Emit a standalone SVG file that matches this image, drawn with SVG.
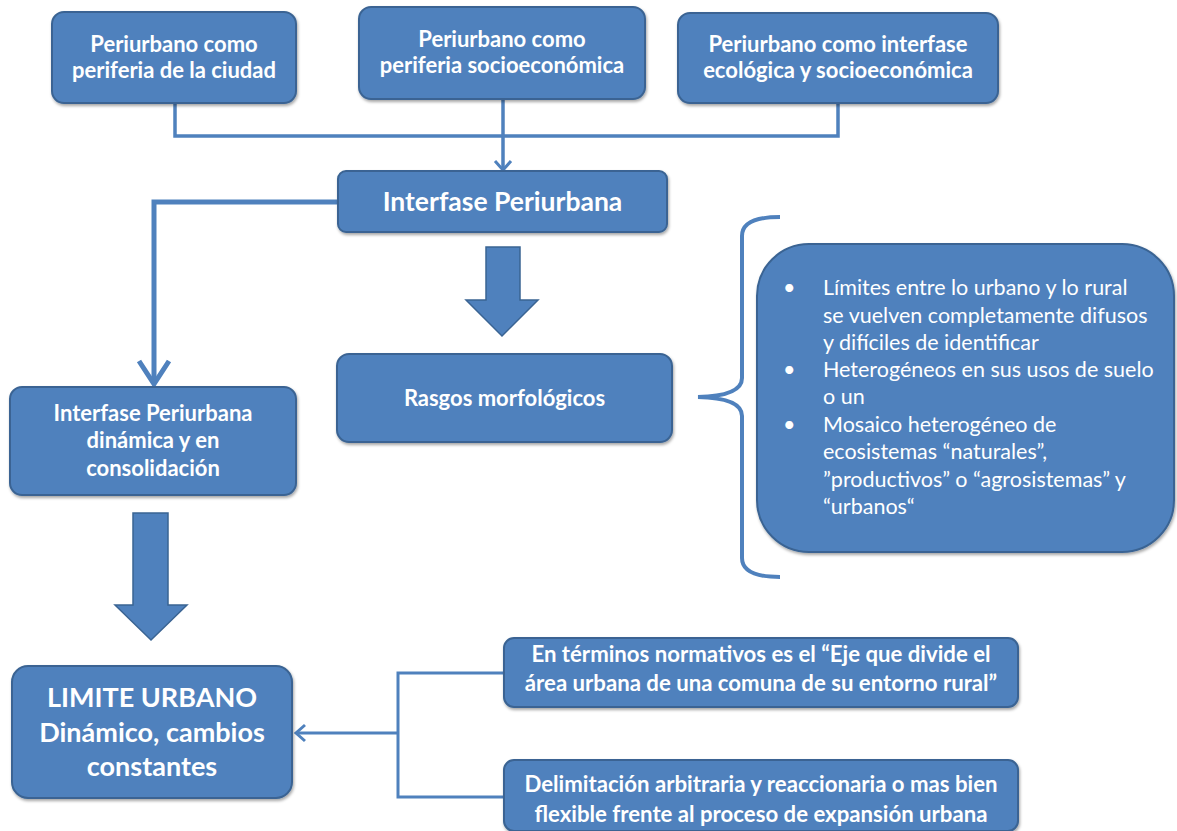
<svg xmlns="http://www.w3.org/2000/svg" width="1177" height="831" viewBox="0 0 1177 831">
<defs>
<style>
.box{fill:#4F81BD;stroke:#3A6493;stroke-width:2;filter:url(#sh)}
.t{font-family:Lato,"Open Sans","Liberation Sans",sans-serif;font-weight:700;fill:#FFFFFF;text-anchor:middle}
.r{font-family:Lato,"Open Sans","Liberation Sans",sans-serif;font-weight:400;fill:#FFFFFF}
.ln{fill:none;stroke:#4F81BD}
</style>
<filter id="sh" x="-10%" y="-10%" width="120%" height="130%">
<feDropShadow dx="1" dy="2" stdDeviation="1.5" flood-color="#000" flood-opacity="0.35"/>
</filter>
<marker id="arrowBig" markerUnits="userSpaceOnUse" viewBox="0 0 30 36" refX="26" refY="18" markerWidth="30" markerHeight="36" orient="auto">
<path d="M3,3 L26,18 L3,33" fill="none" stroke="#4F81BD" stroke-width="5"/>
</marker>
<marker id="arrowSmall" markerUnits="userSpaceOnUse" viewBox="0 0 14 20" refX="11" refY="10" markerWidth="14" markerHeight="20" orient="auto">
<path d="M2,2 L11,10 L2,18" fill="none" stroke="#4F81BD" stroke-width="3"/>
</marker>
</defs>
<rect width="1177" height="831" fill="#FFFFFF"/>

<g id="connectors">
<path class="ln" stroke-width="3.5" d="M175,103 V136 H838 V103"/>
<path class="ln" stroke-width="3.5" d="M503,99 V170" marker-end="url(#arrowSmall)"/>
<path class="ln" stroke-width="5" d="M338,202 H154 V384" marker-end="url(#arrowBig)"/>
<path fill="#4F81BD" stroke="#3A6493" stroke-width="1.5" d="M486,247 H520 V300 H538 L502,336 L466,300 H486 Z"/>
<path fill="#4F81BD" stroke="#3A6493" stroke-width="1.5" d="M133,513 H168 V605 H187 L151,640 L115,605 H133 Z"/>
<path class="ln" stroke-width="4" d="M780,217 Q742,217 742,236 V378 Q742,396 698,397 Q742,398 742,416 V558 Q742,577 780,577"/>
<path class="ln" stroke-width="3" d="M503,673 H398 V797 H503"/>
<path class="ln" stroke-width="3" d="M398,733 H296" marker-end="url(#arrowSmall)"/>
</g>

<g id="node-periferia-ciudad">
<rect class="box" x="52" y="12" width="244" height="91" rx="12"/>
<text class="t" font-size="22" x="174" y="52">Periurbano como</text>
<text class="t" font-size="22" x="174" y="78">periferia de la ciudad</text>
</g>

<g id="node-periferia-socioeconomica">
<rect class="box" x="359" y="7" width="286" height="92" rx="12"/>
<text class="t" font-size="22" x="502" y="47">Periurbano como</text>
<text class="t" font-size="22" x="502" y="73">periferia socioeconómica</text>
</g>

<g id="node-interfase-ecologica">
<rect class="box" x="678" y="13" width="320" height="90" rx="12"/>
<text class="t" font-size="22" x="838" y="52">Periurbano como interfase</text>
<text class="t" font-size="22" x="838" y="78">ecológica y socioeconómica</text>
</g>

<g id="node-interfase-periurbana">
<rect class="box" x="338" y="171" width="329" height="61" rx="8"/>
<text class="t" font-size="26.5" x="502.5" y="211">Interfase Periurbana</text>
</g>

<g id="node-dinamica">
<rect class="box" x="10" y="387" width="286" height="108" rx="12"/>
<text class="t" font-size="22" x="153" y="421">Interfase Periurbana</text>
<text class="t" font-size="22" x="153" y="448">dinámica y en</text>
<text class="t" font-size="22" x="153" y="476">consolidación</text>
</g>

<g id="node-rasgos">
<rect class="box" x="337" y="354" width="335" height="88" rx="12"/>
<text class="t" font-size="22" x="504.5" y="406">Rasgos morfológicos</text>
</g>

<g id="node-rasgos-lista">
<rect class="box" x="757" y="244" width="417" height="308" rx="52"/>
<text class="r" font-size="21.5">
<tspan x="783" y="295">•</tspan><tspan x="823" y="295">Límites entre lo urbano y lo rural</tspan>
<tspan x="823" y="322.5">se vuelven completamente difusos</tspan>
<tspan x="823" y="350">y difíciles de identificar</tspan>
<tspan x="783" y="377">•</tspan><tspan x="823" y="377">Heterogéneos en sus usos de suelo</tspan>
<tspan x="823" y="404">o un</tspan>
<tspan x="783" y="432">•</tspan><tspan x="823" y="432">Mosaico heterogéneo de</tspan>
<tspan x="823" y="459">ecosistemas “naturales”,</tspan>
<tspan x="823" y="487">”productivos” o “agrosistemas” y</tspan>
<tspan x="823" y="514">“urbanos“</tspan>
</text>
</g>

<g id="node-limite-urbano">
<rect class="box" x="12" y="666" width="280" height="132" rx="16"/>
<text class="t" font-size="27" x="152" y="707">LIMITE URBANO</text>
<text class="t" font-size="27" x="152" y="742">Dinámico, cambios</text>
<text class="t" font-size="27" x="152" y="776">constantes</text>
</g>

<g id="node-normativo">
<rect class="box" x="504" y="638" width="514" height="69" rx="10"/>
<text class="t" font-size="22.2" x="761" y="662">En términos normativos es el “Eje que divide el</text>
<text class="t" font-size="22.2" x="761" y="691">área urbana de una comuna de su entorno rural”</text>
</g>

<g id="node-delimitacion">
<rect class="box" x="504" y="760" width="514" height="71" rx="10"/>
<text class="t" font-size="22.2" x="761" y="792">Delimitación arbitraria y reaccionaria o mas bien</text>
<text class="t" font-size="22.2" x="761" y="822">flexible frente al proceso de expansión urbana</text>
</g>
</svg>
